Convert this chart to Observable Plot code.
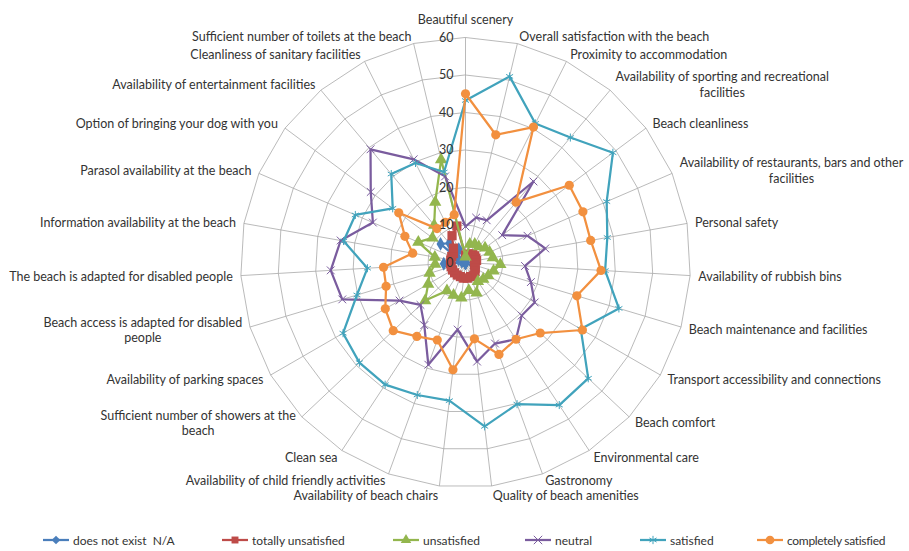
<!DOCTYPE html>
<html>
<head>
<meta charset="utf-8">
<script src="https://cdn.jsdelivr.net/npm/d3@7"></script>
<script src="https://cdn.jsdelivr.net/npm/@observablehq/plot@0.6"></script>
<style>
  html, body { margin: 0; padding: 0; background: #fff; }
  #wrap { width: 909px; font-family: Lato, "Liberation Sans", sans-serif; }
  #legend { position: relative; width: 909px; height: 23px; font-size: 12px; color: #333; }
  .li { position: absolute; top: 5px; display: flex; align-items: center; height: 14px; white-space: nowrap; }
  .li svg { margin-right: 4px; }
</style>
</head>
<body>
<div id="wrap"><div id="chart"></div><div id="legend"></div></div>
<script>
// ---------- data ----------
const categories = [
  "Beautiful scenery",
  "Overall satisfaction with the beach",
  "Proximity to accommodation",
  "Availability of sporting and recreational\nfacilities",
  "Beach cleanliness",
  "Availability of restaurants, bars and other\nfacilities",
  "Personal safety",
  "Availability of rubbish bins",
  "Beach maintenance and facilities",
  "Transport accessibility and connections",
  "Beach comfort",
  "Environmental care",
  "Gastronomy",
  "Quality of beach amenities",
  "Availability of beach chairs",
  "Availability of child friendly activities",
  "Clean sea",
  "Sufficient number of showers at the\nbeach",
  "Availability of parking spaces",
  "Beach access is adapted for disabled\npeople",
  "The beach is adapted for disabled people",
  "Information availability at the beach",
  "Parasol availability at the beach",
  "Option of bringing your dog with you",
  "Availability of entertainment facilities",
  "Cleanliness of sanitary facilities",
  "Sufficient number of toilets at the beach"
];
const seriesNames = ["does not exist  N/A", "totally unsatisfied", "unsatisfied", "neutral", "satisfied", "completely satisfied"];
const notExist = [0.5, 0, 0, 0, 0, 0, 0, 0, 0, 3.2, 0, 0, 0, 0, 0, 0, 0, 0, 0, 0, 5.8, 1, 2, 8.3, 6.7, 4, 0.5];
const totallyUnsatisfied = [2, 2, 2.5, 3, 3, 3, 3, 2.5, 2.5, 3, 3.5, 4, 4, 4.2, 4.2, 4, 4, 4, 4, 4, 4, 4, 4, 4, 5, 8, 10];
const unsatisfied = [1.5, 5, 5.5, 5.5, 6.5, 7, 7.4, 9.3, 7.8, 7, 6.5, 6, 8.6, 7.5, 9.5, 9.3, 9, 14.8, 11.5, 10, 8.1, 8.3, 13.7, 11, 13, 18, 28.2];
const neutral = [9.6, 12.3, 12.6, 28.2, 12.2, 18, 21.6, 15.9, 18.2, 21.3, 20.6, 24.5, 23, 26.6, 18, 29, 20, 16.5, 20.3, 34.3, 36, 33.8, 26.9, 31.5, 39.4, 30.8, 23.6];
const satisfied = [43.2, 51, 41.5, 43.5, 49, 41, 38.4, 37.3, 42.7, 35.5, 45, 45.5, 40.2, 44, 37.1, 37.6, 39, 38.9, 37.7, 30.2, 26.2, 33, 32, 24.2, 30.8, 29.7, 24.8];
const completelySatisfied = [45, 35, 40.4, 21, 34.5, 34.1, 33.9, 36.2, 31, 36, 27.4, 24.5, 26.1, 20.5, 28.8, 22, 23.6, 26.5, 24.7, 22.1, 21.9, 14.3, 17.6, 22.2, 11.8, 12, 13.1];
const ringValues = [10, 20, 30, 40, 50, 60];
const tickLabels = ["0", "10", "20", "30", "40", "50", "60"];

// ---------- styling ----------
const W = 909, H = 528, cx = 465, cy = 262, k = 3.75; // px per unit
const colors = ["#4A7EBB", "#BE4B48", "#93B64E", "#7A5C9E", "#41A3BC", "#F2903F"];
const symbols = ["diamond", "square", "triangle", "times", "asterisk", "circle"];
const sizes = [4.2, 5.2, 4.6, 3.6, 3.8, 4.6];
const valuesList = [notExist, totallyUnsatisfied, unsatisfied, neutral, satisfied, completelySatisfied];
const gridColor = "#a8a8a8";
const textColor = "#333";
const labelFont = 12.5;

const n = categories.length;
const ang = i => i * 2 * Math.PI / n;
const maxV = 60;

const ringData = ringValues.flatMap(v => categories.map((c, i) => ({v, x: v * Math.sin(ang(i)), y: v * Math.cos(ang(i))})));
const spokes = categories.map((c, i) => ({x0: 0, y0: 0, x: maxV * Math.sin(ang(i)), y: maxV * Math.cos(ang(i))}));

const seriesData = valuesList.map((vals, s) => vals.map((v, i) => ({
  series: seriesNames[s], v, x: v * Math.sin(ang(i)), y: v * Math.cos(ang(i))
})));

// label placement: box edge touches a circle just outside the outer ring
const canvas = document.createElement("canvas");
const ctx = canvas.getContext("2d");
ctx.font = labelFont + "px Lato";
const rLab = 233;
const labelData = categories.map((c, i) => {
  const lines = c.split("\n");
  const w = Math.max(...lines.map(l => ctx.measureText(l).width));
  const s = Math.sin(ang(i)), co = Math.cos(ang(i));
  let ax = cx + rLab * s, ay = cy - rLab * co;
  let xm;
  if (Math.abs(s) < 0.05) { xm = ax; ay = cy - 244 * co; }
  else if (s > 0) xm = ax + w / 2;
  else xm = ax - w / 2;
  // small vertical spread of the crowded labels at the bottom
  if (co < -0.9) ay += (Math.abs(s) < 0.2 ? 1.5 : -1.5);
  return {text: c, x: (xm - cx) / k, y: (cy - ay) / k};
});

const tickData = tickLabels.map((t, i) => ({t, v: i * 10}));

const marks = [
  Plot.line(ringData, {x: "x", y: "y", z: "v", curve: "linear-closed", stroke: gridColor, strokeWidth: 0.8}),
  Plot.link(spokes, {x1: "x0", y1: "y0", x2: "x", y2: "y", stroke: gridColor, strokeWidth: 0.8})
];
seriesData.forEach((d, s) => {
  marks.push(Plot.line(d, {x: "x", y: "y", curve: "linear-closed", stroke: colors[s], strokeWidth: 2.25}));
  const filled = !(symbols[s] === "times" || symbols[s] === "asterisk");
  marks.push(Plot.dot(d, filled
    ? {x: "x", y: "y", symbol: () => symbols[s], r: sizes[s], fill: colors[s], stroke: "none"}
    : {x: "x", y: "y", symbol: () => symbols[s], r: sizes[s], stroke: colors[s], strokeWidth: 1, fill: "none"}));
});
marks.push(Plot.text(tickData, {x: 0, y: "v", text: "t", textAnchor: "end", dx: -12, fill: textColor, fontSize: 12.5}));
marks.push(Plot.text(labelData, {x: "x", y: "y", text: "text", textAnchor: "middle", lineAnchor: "middle", lineHeight: 1.25, fill: textColor, fontSize: labelFont}));

const chart = Plot.plot({
  width: W, height: H, margin: 0,
  style: {fontFamily: "Lato, 'Liberation Sans', sans-serif", fontSize: "12px", background: "#fff", overflow: "visible"},
  x: {domain: [-cx / k, (W - cx) / k], axis: null},
  y: {domain: [-(H - cy) / k, cy / k], axis: null},
  symbol: {type: "identity"},
  marks
});
document.getElementById("chart").appendChild(chart);

// ---------- legend ----------
const legendLeft = [43, 222, 393, 525, 640, 757];
const legend = document.getElementById("legend");
const symPath = (s, c) => {
  const g = d3.symbol(s === "diamond" ? d3.symbolDiamond2 : s === "square" ? d3.symbolSquare : s === "triangle" ? d3.symbolTriangle
    : s === "times" ? d3.symbolTimes : s === "asterisk" ? d3.symbolAsterisk : d3.symbolCircle, s === "circle" ? 60 : 48)();
  const filled = !(s === "times" || s === "asterisk");
  return `<path transform="translate(13,7)" d="${g}" fill="${filled ? c : "none"}" stroke="${filled ? "none" : c}" stroke-width="1"/>`;
};
seriesNames.forEach((name, s) => {
  const div = document.createElement("div");
  div.className = "li";
  div.style.left = legendLeft[s] + "px";
  if (s === 5) div.style.letterSpacing = "-0.3px";
  div.innerHTML = `<svg width="26" height="14"><line x1="0" x2="26" y1="7" y2="7" stroke="${colors[s]}" stroke-width="2.25"/>${symPath(symbols[s], colors[s])}</svg><span>${name.replace(/ /g, "&nbsp;")}</span>`;
  legend.appendChild(div);
});
</script>
</body>
</html>
